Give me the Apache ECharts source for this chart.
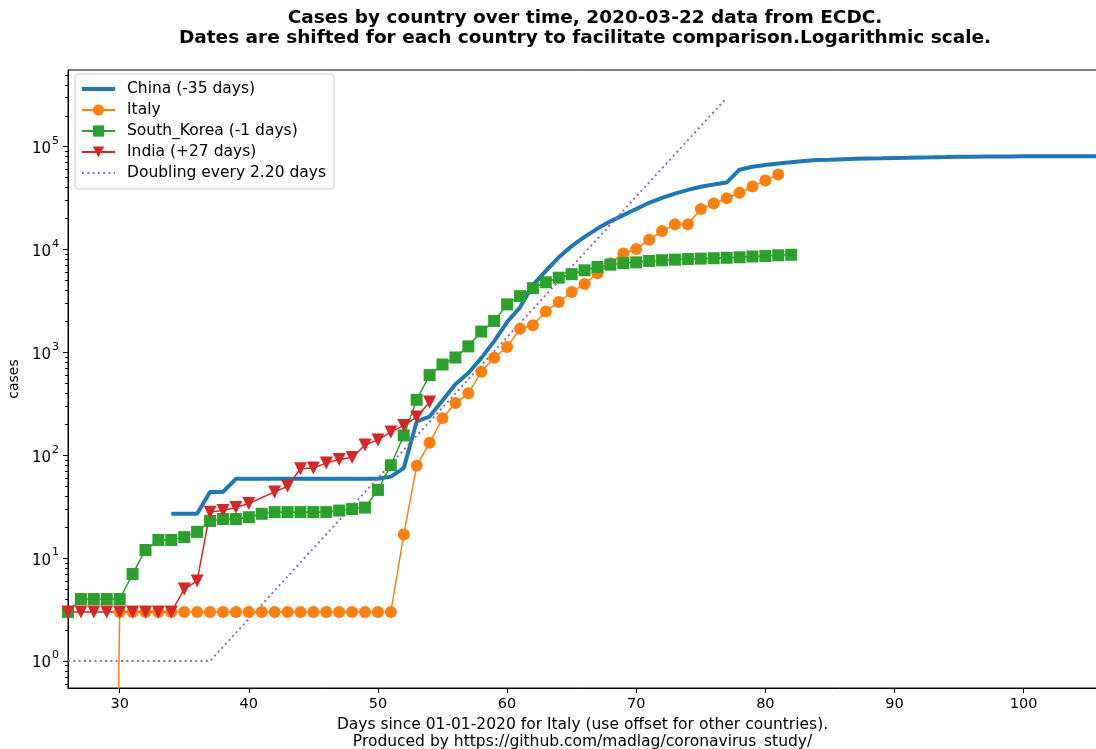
<!DOCTYPE html>
<html>
<head>
<meta charset="utf-8">
<script src="https://cdn.jsdelivr.net/npm/echarts@6/dist/echarts.min.js"></script>
<style>
  html, body { margin: 0; padding: 0; background: #fff; }
  #chart { width: 1096px; height: 749px; }
</style>
</head>
<body>
<div id="chart"></div>
<script>
// days since 01-01-2020 (Italy reference), cases per day
var xTicks = [30, 40, 50, 60, 70, 80, 90, 100];
var yTicks = [1, 10, 100, 1000, 10000, 100000];
var yTickExp = ['0', '1', '2', '3', '4', '5'];

var chinaStart = 34;
var chinaCases = [27, 27, 27, 44, 44, 59, 59, 59, 59, 59, 59, 59, 59, 59, 59, 59, 59,
    62, 75, 213, 238, 340, 490, 630, 880, 1287, 1975, 2744, 4515, 6200, 8400, 10800,
    13300, 16000, 18800, 21600, 24800, 28500, 31800, 35000, 38000, 40800, 43000, 44800,
    59804, 63851, 66492, 68500, 70548, 72436, 74185, 74576, 75465, 76288, 76936, 77150,
    77658, 78064, 78497, 78824, 79251, 79824, 80026, 80151, 80270, 80409, 80552, 80651,
    80695, 80735, 80754, 80778, 80793, 80813];

var italyStart = 29;
var italyCases = [0, 3, 3, 3, 3, 3, 3, 3, 3, 3, 3, 3, 3, 3, 3, 3, 3, 3, 3, 3, 3, 3, 3,
    17, 79, 132, 229, 322, 400, 650, 888, 1128, 1694, 1835, 2502, 3089, 3858, 4636, 5883,
    7375, 9172, 10149, 12462, 15113, 17660, 17660, 24747, 27980, 31506, 35713, 41035,
    47021, 53578];

var koreaStart = 26;
var koreaCases = [3, 4, 4, 4, 4, 7, 12, 15, 15, 16, 18, 23, 24, 24, 25, 27, 28, 28, 28, 28,
    28, 29, 30, 31, 46, 80, 156, 346, 602, 763, 893, 1146, 1595, 2022, 2931, 3526, 4212,
    4812, 5328, 5766, 6284, 6767, 7134, 7382, 7513, 7755, 7869, 7979, 8086, 8162, 8236,
    8320, 8413, 8565, 8652, 8799, 8897];

var indiaDays = [26, 27, 28, 29, 30, 31, 32, 33, 34, 35, 36, 37, 38, 39, 40,
    42, 43, 44, 45, 46, 47, 48, 49, 50, 51, 52, 53, 54];
var indiaCases = [3, 3, 3, 3, 3, 3, 3, 3, 3, 5, 6, 28, 29, 31, 34,
    44, 50, 74, 75, 84, 91, 95, 126, 141, 168, 195, 235, 330];

var doublingDays = [26, 37, 77];
var doublingCases = [1, 1, 298000];

// zeros can't sit on a log axis, matplotlib clips them far below the frame
var ZERO_FLOOR = 1e-9;

function fromStart(start, arr) {
    return arr.map(function (v, i) {
        if (v === 0) return { value: [start + i, ZERO_FLOOR], symbol: 'none' };
        return [start + i, v];
    });
}
function zip(xs, ys) {
    return xs.map(function (x, i) { return [x, ys[i]]; });
}

var minorTicks = [];
[0.1, 1, 10, 100, 1000, 10000, 100000].forEach(function (p) {
    for (var k = 2; k <= 9; k++) {
        var v = +(p * k).toPrecision(3);
        if (v > 0.546 && v < 557000) minorTicks.push(v);
    }
});

var font = 'DejaVu Sans';
var myChart = echarts.init(document.getElementById('chart'), null, { renderer: 'canvas' });

var option = {
    animation: false,
    backgroundColor: '#fff',
    textStyle: { fontFamily: font },
    graphic: [{
        type: 'text',
        x: 585,
        y: 8,
        style: {
            text: 'Cases by country over time, 2020-03-22 data from ECDC.\nDates are shifted for each country to facilitate comparison.Logarithmic scale.',
            font: 'bold 18.5px "DejaVu Sans"',
            lineHeight: 20,
            fill: '#000',
            align: 'center'
        }
    }],
    grid: {
        left: 68, right: -1, top: 70, bottom: 61,
        outerBoundsMode: 'none',
        containLabel: false,
        show: true, borderColor: '#000', borderWidth: 1
    },
    legend: {
        orient: 'vertical',
        left: 75,
        top: 74,
        padding: [7, 8, 8, 5],
        itemGap: 5,
        itemWidth: 33,
        itemHeight: 14,
        borderColor: '#cccccc',
        borderWidth: 1,
        borderRadius: 3,
        backgroundColor: 'rgba(255,255,255,0.8)',
        textStyle: { fontSize: 15.5, color: '#000', fontFamily: font, padding: [0, 0, 0, 7] },
        data: [
            { name: 'China (-35 days)', itemStyle: { opacity: 0 }, lineStyle: { width: 4 } },
            'Italy',
            'South_Korea (-1 days)',
            'India (+27 days)',
            { name: 'Doubling every 2.20 days', itemStyle: { opacity: 0 } }
        ]
    },
    xAxis: {
        type: 'value',
        min: 26,
        max: 105.68,
        name: 'Days since 01-01-2020 for Italy (use offset for other countries).\nProduced by https://github.com/madlag/coronavirus_study/',
        nameLocation: 'middle',
        nameGap: 28,
        nameTextStyle: { fontSize: 15.5, color: '#000', lineHeight: 17, fontFamily: font },
        axisLine: { lineStyle: { color: '#000', width: 1 } },
        axisTick: { customValues: xTicks, length: 5, lineStyle: { color: '#000' } },
        axisLabel: { customValues: xTicks, fontSize: 14.5, color: '#000', margin: 9, fontFamily: font },
        splitLine: { show: false }
    },
    yAxis: [{
        type: 'log',
        logBase: 10,
        min: 0.546,
        max: 557000,
        name: 'cases',
        nameLocation: 'middle',
        nameGap: 46,
        nameTextStyle: { fontSize: 14, color: '#000', fontFamily: font },
        axisLine: { lineStyle: { color: '#000', width: 1 } },
        axisTick: { customValues: yTicks, length: 5, lineStyle: { color: '#000' } },
        axisLabel: {
            customValues: yTicks,
            color: '#000', margin: 9, fontFamily: font,
            formatter: function (v) {
                var i = Math.round(Math.log10(v));
                return '{b|10}{s|' + yTickExp[i] + '}';
            },
            rich: {
                b: { fontSize: 15, lineHeight: 22, verticalAlign: 'bottom', fontFamily: font, color: '#000', padding: [0, 0, 1, 0] },
                s: { fontSize: 11, lineHeight: 22, verticalAlign: 'top', fontFamily: font, color: '#000', padding: [0, 0, 0, 1] }
            }
        },
        splitLine: { show: false }
    }, {
        type: 'log',
        logBase: 10,
        min: 0.546,
        max: 557000,
        position: 'left',
        axisLine: { show: false },
        axisTick: { customValues: minorTicks, length: 3, lineStyle: { color: '#000' } },
        axisLabel: { show: false },
        splitLine: { show: false }
    }],
    series: [{
        name: 'China (-35 days)',
        type: 'line',
        data: fromStart(chinaStart, chinaCases),
        symbol: 'none',
        color: '#1f77b4',
        lineStyle: { width: 4, color: '#1f77b4' }
    }, {
        name: 'Italy',
        type: 'line',
        data: fromStart(italyStart, italyCases),
        symbol: 'circle',
        symbolSize: 12,
        color: '#ff7f0e',
        lineStyle: { width: 1.5, color: '#ff7f0e' }
    }, {
        name: 'South_Korea (-1 days)',
        type: 'line',
        data: fromStart(koreaStart, koreaCases),
        symbol: 'rect',
        symbolSize: 12,
        color: '#2ca02c',
        lineStyle: { width: 1.5, color: '#2ca02c' }
    }, {
        name: 'India (+27 days)',
        type: 'line',
        data: zip(indiaDays, indiaCases),
        symbol: 'triangle',
        symbolRotate: 180,
        symbolSize: 13,
        color: '#d62728',
        lineStyle: { width: 1.5, color: '#d62728' }
    }, {
        name: 'Doubling every 2.20 days',
        type: 'line',
        data: zip(doublingDays, doublingCases),
        symbol: 'none',
        color: '#9467bd',
        lineStyle: { width: 2, type: [2, 3.3], color: '#9467bd' }
    }]
};

myChart.setOption(option);
</script>
</body>
</html>
